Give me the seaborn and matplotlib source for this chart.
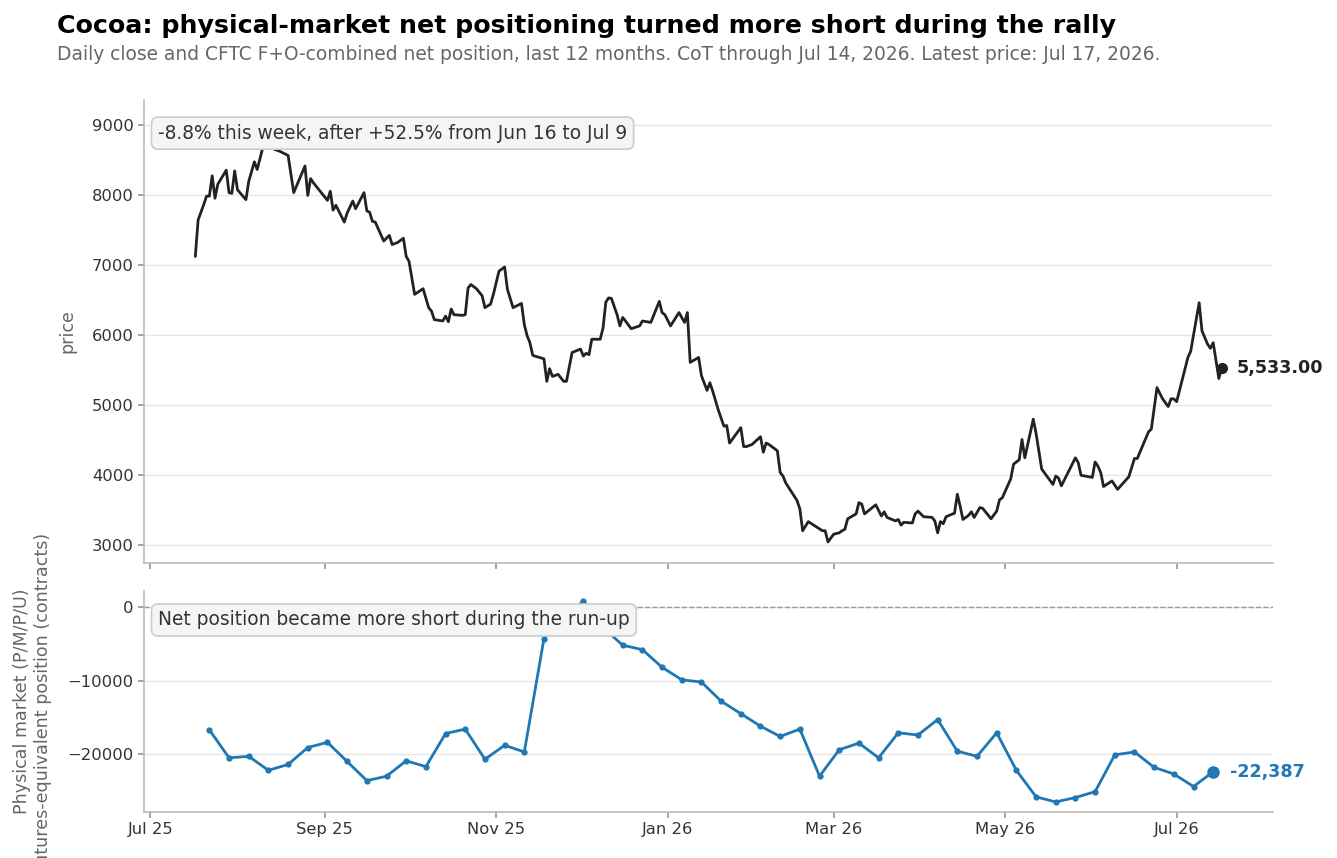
import pandas as pd
import matplotlib
matplotlib.use("Agg")
import matplotlib.pyplot as plt
import matplotlib.dates as mdates
import seaborn as sns

# daily close (vertices)
price_dates = [
    "2025-07-17", "2025-07-18", "2025-07-20", "2025-07-21", "2025-07-22", "2025-07-23", "2025-07-24", "2025-07-25",
    "2025-07-28", "2025-07-29", "2025-07-30", "2025-07-31", "2025-08-01", "2025-08-04", "2025-08-05", "2025-08-07",
    "2025-08-08", "2025-08-10", "2025-08-12", "2025-08-14", "2025-08-16", "2025-08-19", "2025-08-21", "2025-08-25",
    "2025-08-26", "2025-08-27", "2025-08-28", "2025-08-30", "2025-09-02", "2025-09-03", "2025-09-04", "2025-09-05",
    "2025-09-08", "2025-09-09", "2025-09-11", "2025-09-12", "2025-09-15", "2025-09-16", "2025-09-17", "2025-09-18",
    "2025-09-19", "2025-09-22", "2025-09-24", "2025-09-25", "2025-09-27", "2025-09-29", "2025-09-30", "2025-10-01",
    "2025-10-03", "2025-10-06", "2025-10-08", "2025-10-09", "2025-10-10", "2025-10-13", "2025-10-14", "2025-10-15",
    "2025-10-16", "2025-10-17", "2025-10-20", "2025-10-21", "2025-10-22", "2025-10-23", "2025-10-25", "2025-10-27",
    "2025-10-28", "2025-10-30", "2025-10-31", "2025-11-02", "2025-11-04", "2025-11-05", "2025-11-07", "2025-11-10",
    "2025-11-11", "2025-11-12", "2025-11-13", "2025-11-14", "2025-11-18", "2025-11-19", "2025-11-20", "2025-11-21",
    "2025-11-23", "2025-11-25", "2025-11-26", "2025-11-28", "2025-12-01", "2025-12-02", "2025-12-03", "2025-12-04",
    "2025-12-05", "2025-12-08", "2025-12-09", "2025-12-10", "2025-12-11", "2025-12-12", "2025-12-14", "2025-12-15",
    "2025-12-16", "2025-12-17", "2025-12-19", "2025-12-22", "2025-12-23", "2025-12-26", "2025-12-29", "2025-12-30",
    "2025-12-31", "2026-01-02", "2026-01-05", "2026-01-07", "2026-01-08", "2026-01-09", "2026-01-12", "2026-01-13",
    "2026-01-15", "2026-01-16", "2026-01-17", "2026-01-19", "2026-01-21", "2026-01-22", "2026-01-23", "2026-01-27",
    "2026-01-28", "2026-01-29", "2026-01-31", "2026-02-03", "2026-02-04", "2026-02-05", "2026-02-06", "2026-02-09",
    "2026-02-10", "2026-02-11", "2026-02-12", "2026-02-16", "2026-02-17", "2026-02-18", "2026-02-20", "2026-02-25",
    "2026-02-26", "2026-02-27", "2026-03-01", "2026-03-03", "2026-03-04", "2026-03-05", "2026-03-06", "2026-03-09",
    "2026-03-10", "2026-03-11", "2026-03-12", "2026-03-16", "2026-03-18", "2026-03-19", "2026-03-20", "2026-03-23",
    "2026-03-24", "2026-03-25", "2026-03-26", "2026-03-29", "2026-03-30", "2026-03-31", "2026-04-02", "2026-04-05",
    "2026-04-06", "2026-04-07", "2026-04-08", "2026-04-09", "2026-04-10", "2026-04-13", "2026-04-14", "2026-04-15",
    "2026-04-16", "2026-04-18", "2026-04-19", "2026-04-20", "2026-04-22", "2026-04-23", "2026-04-26", "2026-04-28",
    "2026-04-29", "2026-04-30", "2026-05-03", "2026-05-04", "2026-05-06", "2026-05-07", "2026-05-08", "2026-05-11",
    "2026-05-12", "2026-05-14", "2026-05-18", "2026-05-19", "2026-05-20", "2026-05-21", "2026-05-26", "2026-05-27",
    "2026-05-28", "2026-06-01", "2026-06-02", "2026-06-03", "2026-06-04", "2026-06-05", "2026-06-08", "2026-06-10",
    "2026-06-12", "2026-06-14", "2026-06-16", "2026-06-17", "2026-06-21", "2026-06-22", "2026-06-24", "2026-06-26",
    "2026-06-28", "2026-06-29", "2026-06-30", "2026-07-01", "2026-07-05", "2026-07-06", "2026-07-09", "2026-07-10",
    "2026-07-12", "2026-07-13", "2026-07-14", "2026-07-16", "2026-07-17",
]
price_close = [
    7120, 7640, 7860, 7980, 7980, 8270, 7950, 8150,
    8350, 8030, 8020, 8340, 8070, 7930, 8190, 8470,
    8360, 8670, 9050, 8650, 8620, 8560, 8030, 8410,
    7990, 8230, 8170, 8070, 7920, 8050, 7780, 7850,
    7610, 7740, 7910, 7800, 8030, 7770, 7750, 7620,
    7610, 7340, 7420, 7290, 7320, 7380, 7120, 7050,
    6580, 6660, 6390, 6340, 6220, 6200, 6270, 6190,
    6370, 6290, 6280, 6290, 6670, 6720, 6660, 6560,
    6390, 6440, 6580, 6910, 6970, 6650, 6390, 6450,
    6150, 5990, 5890, 5710, 5660, 5340, 5520, 5410,
    5440, 5340, 5340, 5750, 5800, 5700, 5740, 5720,
    5940, 5940, 6100, 6470, 6530, 6520, 6290, 6130,
    6250, 6200, 6090, 6130, 6200, 6180, 6480, 6320,
    6290, 6130, 6320, 6180, 6320, 5610, 5680, 5420,
    5210, 5320, 5200, 4930, 4700, 4710, 4460, 4680,
    4410, 4410, 4440, 4550, 4330, 4460, 4440, 4350,
    4040, 3990, 3890, 3640, 3520, 3210, 3340, 3210,
    3210, 3050, 3160, 3180, 3210, 3230, 3380, 3450,
    3610, 3590, 3450, 3580, 3420, 3480, 3400, 3350,
    3370, 3290, 3330, 3320, 3450, 3490, 3410, 3400,
    3350, 3180, 3340, 3310, 3410, 3460, 3730, 3560,
    3370, 3430, 3480, 3400, 3540, 3530, 3380, 3490,
    3650, 3680, 3950, 4160, 4220, 4510, 4250, 4800,
    4600, 4090, 3870, 3990, 3960, 3850, 4250, 4180,
    4000, 3970, 4190, 4130, 4040, 3840, 3920, 3800,
    3890, 3980, 4240, 4240, 4620, 4660, 5250, 5090,
    4980, 5090, 5090, 5050, 5680, 5770, 6460, 6060,
    5870, 5810, 5890, 5380, 5533,
]

# weekly CFTC net position, physical market (report Tuesdays)
cot_start = "2025-07-22"
cot_net = [
    -16700, -20500, -20300, -22200, -21400, -19100, -18400, -21000,
    -23600, -23000, -20900, -21700, -17200, -16600, -20700, -18800,
    -19700, -4300, -1500, 800, -2800, -5200, -5800, -8200,
    -9900, -10200, -12800, -14500, -16200, -17600, -16600, -23000,
    -19400, -18500, -20500, -17100, -17400, -15300, -19600, -20300,
    -17100, -22200, -25800, -26500, -25900, -25100, -20100, -19700,
    -21800, -22700, -24400, -22387,
]

price = pd.DataFrame({"date": pd.to_datetime(price_dates), "close": price_close})
cot = pd.DataFrame({
    "date": pd.date_range(cot_start, periods=len(cot_net), freq="7D"),
    "net": cot_net,
})

sns.set_theme(style="ticks")
plt.rcParams["font.family"] = ["DejaVu Sans"]

BLUE = "#1f77b4"
DARK = "#222222"
GRID = "#e6e6e6"
SPINE = "#bbbbbb"

fig, (ax1, ax2) = plt.subplots(
    2, 1, sharex=True, figsize=(13.37, 8.58), dpi=100,
    gridspec_kw=dict(height_ratios=[463, 221]),
)
fig.subplots_adjust(left=0.1077, right=0.9521, top=0.8834, bottom=0.0536, hspace=0.082)

sns.lineplot(data=price, x="date", y="close", ax=ax1, color=DARK, lw=2)
last_p = price.iloc[-1]
ax1.plot(last_p["date"], last_p["close"], "o", color=DARK, ms=7, zorder=5)
ax1.annotate(f"{last_p['close']:,.2f}", (last_p["date"], last_p["close"]),
             xytext=(11, 0), textcoords="offset points", va="center", ha="left",
             fontsize=12.6, fontweight="bold", color=DARK)

ax2.axhline(0, color="#999999", lw=1, ls="--", zorder=1)
sns.lineplot(data=cot, x="date", y="net", ax=ax2, color=BLUE, lw=2,
             marker="o", markersize=4.5, markeredgewidth=0)
last_c = cot.iloc[-1]
ax2.plot(last_c["date"], last_c["net"], "o", color=BLUE, ms=8, zorder=5)
ax2.annotate(f"{last_c['net']:,.0f}", (last_c["date"], last_c["net"]),
             xytext=(12, 0), textcoords="offset points", va="center", ha="left",
             fontsize=12.6, fontweight="bold", color=BLUE)

box = dict(boxstyle="round,pad=0.35", facecolor="#f5f5f5", edgecolor="#cccccc", lw=1.2, alpha=1.0)
ax1.text(0.0124, 0.949, "-8.8% this week, after +52.5% from Jun 16 to Jul 9",
         transform=ax1.transAxes, va="top", ha="left", fontsize=13.4, color="#333333",
         bbox=box, zorder=10)
ax2.text(0.0124, 0.912, "Net position became more short during the run-up",
         transform=ax2.transAxes, va="top", ha="left", fontsize=13.4, color="#333333",
         bbox=box, zorder=10)

for ax in (ax1, ax2):
    ax.grid(axis="y", color=GRID, lw=1)
    ax.grid(axis="x", visible=False)
    sns.despine(ax=ax)
    for s in ("left", "bottom"):
        ax.spines[s].set_color(SPINE)
        ax.spines[s].set_linewidth(1.2)
    ax.tick_params(axis="both", labelsize=11.8, colors="#999999", labelcolor="#333333", length=4)
    ax.set_xlabel("")

ax1.set_ylabel("price", fontsize=12.6, color="#666666", labelpad=11)
ax2.set_ylabel("Physical market (P/M/P/U)\nfutures-equivalent position (contracts)",
               fontsize=12.6, color="#666666", labelpad=11)
ax2.xaxis.set_major_locator(mdates.MonthLocator(bymonth=[1, 3, 5, 7, 9, 11]))
ax2.xaxis.set_major_formatter(mdates.DateFormatter("%b %y"))

fig.text(0.0426, 0.9615, "Cocoa: physical-market net positioning turned more short during the rally",
         fontsize=18.2, fontweight="bold", va="baseline", ha="left", color="black")
fig.text(0.0426, 0.930,
         "Daily close and CFTC F+O-combined net position, last 12 months. "
         "CoT through Jul 14, 2026. Latest price: Jul 17, 2026.",
         fontsize=13.4, va="baseline", ha="left", color="#666666")

fig.savefig("out.png", dpi=100)
